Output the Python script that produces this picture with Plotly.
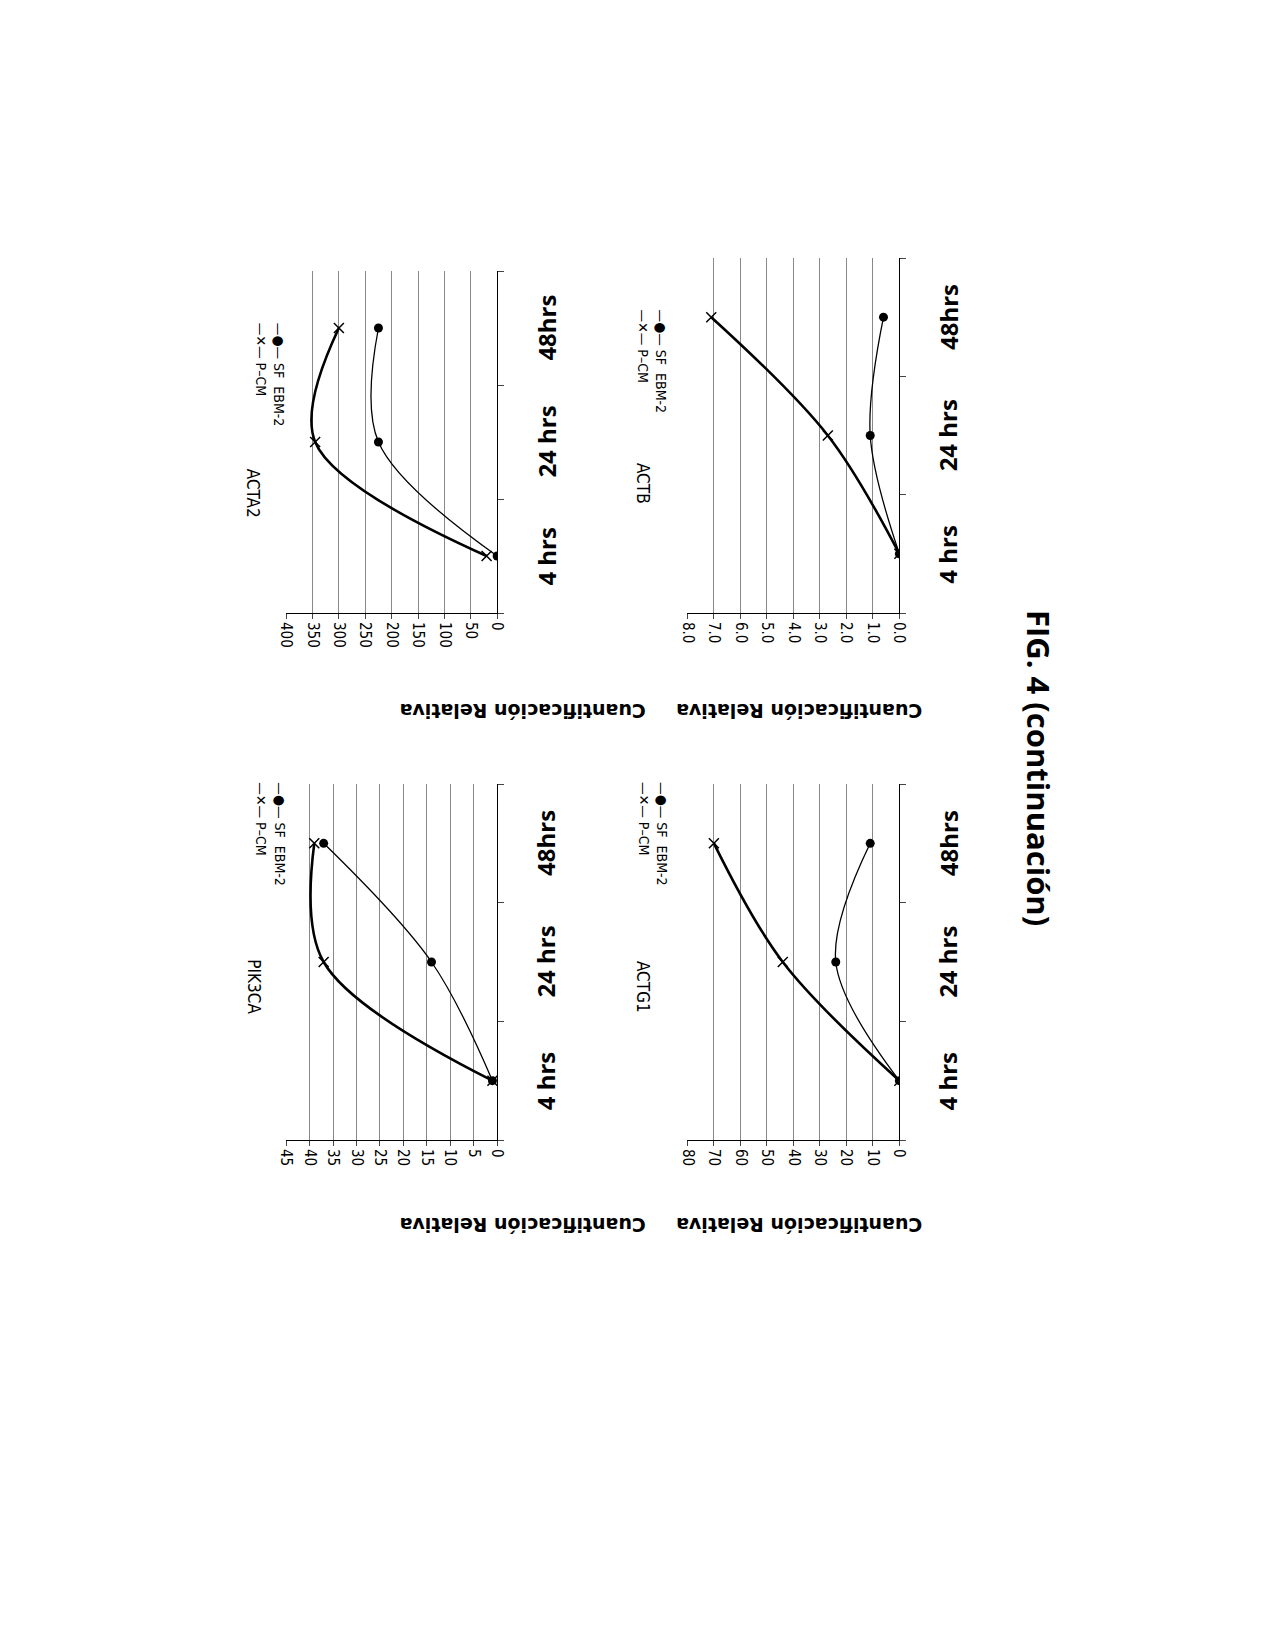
import plotly.graph_objects as go

W, H = 1275, 1650
def px(x): return x / W
def py(y): return 1 - y / H

paneles = {
    'PIK3CA': dict(sf=[1, 14, 37], pcm=[1, 37, 39], rmax=45, dt=5, fmt='{:g}',
                   xd=[273, 487], yd=[776, 1132]),
    'ACTA2': dict(sf=[0, 225, 225], pcm=[20, 345, 300], rmax=400, dt=50, fmt='{:g}',
                  xd=[273, 487], yd=[263, 605]),
    'ACTG1': dict(sf=[0, 24, 11], pcm=[0, 44, 70], rmax=80, dt=10, fmt='{:g}',
                  xd=[680, 895], yd=[776, 1132]),
    'ACTB': dict(sf=[0, 1.1, 0.6], pcm=[0, 2.7, 7.1], rmax=8, dt=1, fmt='{:.1f}',
                 xd=[680, 895], yd=[250, 605]),
}
tiempos = [0.5, 1.5, 2.5]
etiquetas = ['4 hrs', '24 hrs', '48hrs']

fig = go.Figure()
anots = []
for i, (gen, p) in enumerate(paneles.items(), start=1):
    xa = 'x' if i == 1 else f'x{i}'
    ya = 'y' if i == 1 else f'y{i}'
    fig.add_trace(go.Scatter(x=p['sf'], y=tiempos, mode='lines+markers', line_shape='spline',
                             line=dict(color='black', width=1.3),
                             marker=dict(symbol='circle', size=9, color='black'),
                             xaxis=xa, yaxis=ya, showlegend=False))
    fig.add_trace(go.Scatter(x=p['pcm'], y=tiempos, mode='lines+markers', line_shape='spline',
                             line=dict(color='black', width=2.6),
                             marker=dict(symbol='x-thin', size=10, line=dict(width=1.5, color='black')),
                             xaxis=xa, yaxis=ya, showlegend=False))
    vals = [k * p['dt'] for k in range(int(round(p['rmax'] / p['dt'])) + 1)]
    fig.update_layout(**{
        ('xaxis' if i == 1 else f'xaxis{i}'): dict(
            domain=[px(p['xd'][0]), px(p['xd'][1])], anchor=ya, range=[p['rmax'], 0],
            tickvals=vals, ticktext=[p['fmt'].format(v) for v in vals], tickangle=90,
            showgrid=True, gridcolor='#888', gridwidth=1, zeroline=False,
            showline=True, linecolor='black', ticks='outside', ticklen=5,
            tickfont=dict(family='DejaVu Sans Condensed', size=15, color='black'), side='bottom'),
        ('yaxis' if i == 1 else f'yaxis{i}'): dict(
            domain=[py(p['yd'][1]), py(p['yd'][0])], anchor=xa, range=[0, 3],
            tickvals=[0, 1, 2, 3], showticklabels=False, ticks='outside', ticklen=6,
            side='right', showline=True, linecolor='black', showgrid=False, zeroline=False),
    })
    for t, lab in zip(tiempos, etiquetas):
        anots.append(dict(text=lab, xref=f'{xa} domain', yref=ya, x=1.0, y=t, xanchor='left',
                          xshift=30, showarrow=False, textangle=-90,
                          font=dict(family='Open Sans', size=24, color='black', weight='bold')))
    anots.append(dict(text='Cuantificación Relativa', xref='paper', yref='paper',
                      x=px(sum(p['xd']) / 2) + 0.005, y=py(p['yd'][1] + 98), showarrow=False,
                      textangle=180, font=dict(family='DejaVu Sans', size=19, color='black', weight='bold')))
    anots.append(dict(text=gen, xref='paper', yref='paper', x=px(p['xd'][0] - 45),
                      y=py((p['yd'][0] + p['yd'][1]) / 2 + 25), showarrow=False, textangle=90,
                      font=dict(family='DejaVu Sans Condensed', size=17, color='black')))
    anots.append(dict(text='—●— SF  EBM-2<br>—✕— P–CM', xref='paper', yref='paper', align='left',
                      x=px(p['xd'][0] - 35), y=py(p['yd'][0] + 50), showarrow=False, textangle=90,
                      font=dict(family='DejaVu Sans Condensed', size=14, color='black')))

anots.append(dict(text='FIG. 4 (continuación)', xref='paper', yref='paper', x=px(1060), y=py(760),
                  showarrow=False, textangle=90,
                  font=dict(family='Open Sans', size=31, color='black', weight='bold')))

fig.update_layout(width=W, height=H, margin=dict(l=0, r=0, t=0, b=0),
                  plot_bgcolor='white', paper_bgcolor='white', annotations=anots)
fig.write_html('out.html')
